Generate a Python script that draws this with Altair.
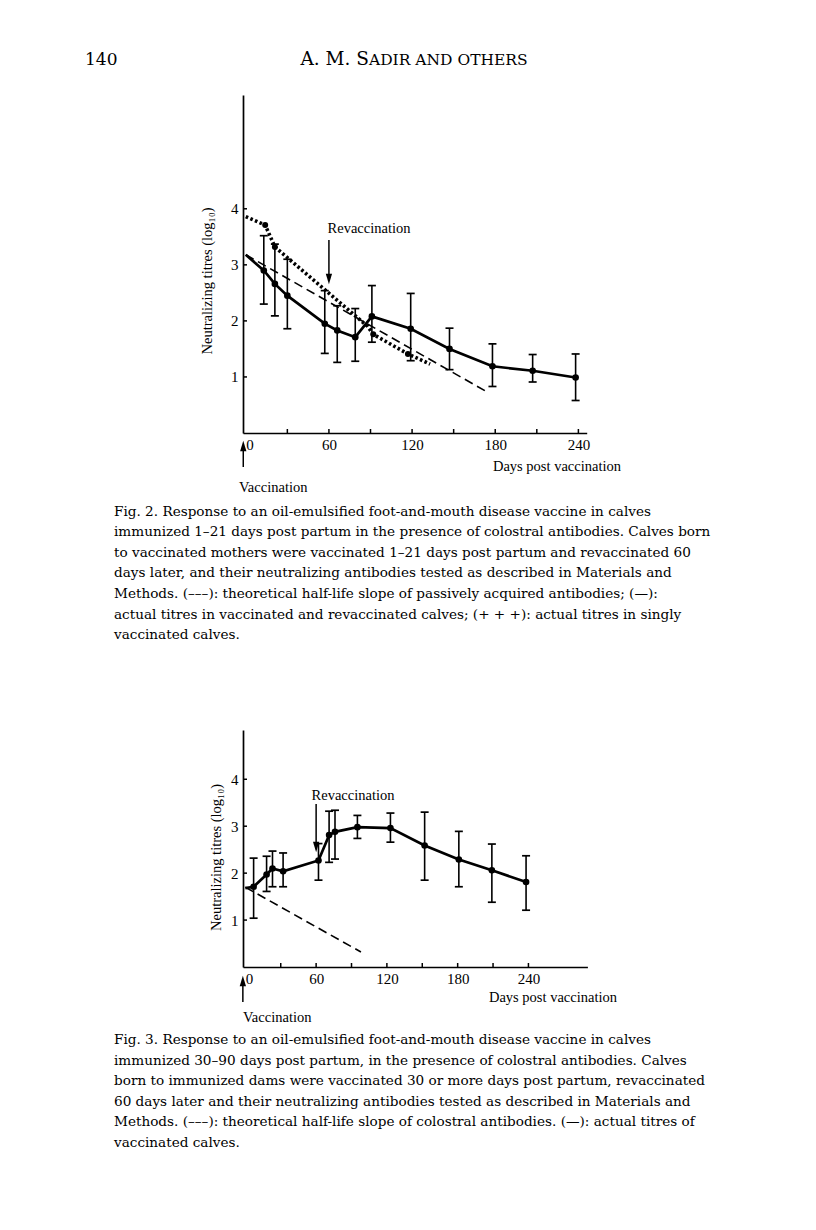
import altair as alt
import pandas as pd

SERIF = "Liberation Serif"
BOOK = "DejaVu Serif"

# ---------------- Fig. 2 data ----------------
f2_day = [0, 13, 21, 30, 57, 66, 79, 91, 119, 147, 178, 207, 238]
f2_titre = [3.18, 2.90, 2.66, 2.45, 1.95, 1.83, 1.71, 2.08, 1.86, 1.50, 1.19, 1.11, 0.99]
f2_hi = [None, 3.52, 3.37, 3.10, 2.54, 2.27, 2.22, 2.63, 2.49, 1.87, 1.59, 1.40, 1.41]
f2_lo = [None, 2.30, 2.09, 1.86, 1.42, 1.26, 1.28, 1.62, 1.29, 1.13, 0.83, 0.91, 0.58]

# singly vaccinated calves (+ + +)
sv_day = [0, 14, 21, 88, 92, 117, 133]
sv_titre = [3.86, 3.71, 3.32, 1.90, 1.76, 1.41, 1.23]
sv_dot = [False, True, True, False, True, True, False]

# theoretical half-life slope
hl2_day = [0, 175]
hl2_titre = [3.18, 0.72]

# ---------------- Fig. 3 data ----------------
f3_day = [0, 7, 18, 23, 32, 62, 71, 76, 95, 123, 152, 181, 209, 238]
f3_titre = [1.68, 1.71, 1.97, 2.10, 2.04, 2.27, 2.81, 2.88, 2.98, 2.96, 2.59, 2.29, 2.06, 1.81]
f3_hi = [None, 2.32, 2.36, 2.47, 2.43, 2.63, 3.32, 3.34, 3.23, 3.28, 3.30, 2.89, 2.62, 2.37]
f3_lo = [None, 1.04, 1.61, 1.71, 1.71, 1.85, 2.23, 2.30, 2.74, 2.66, 1.85, 1.71, 1.38, 1.21]

hl3_day = [0, 98]
hl3_titre = [1.70, 0.32]

# ---------------- axes ----------------
x_tick_values = [0, 30, 60, 90, 120, 150, 180, 210, 240]
x_inner_ticks = [30, 60, 90, 120, 150, 180, 210, 240]
y_tick_values = [1, 2, 3, 4]
revacc_day = [60]
vacc_day = [0]

y_title = "Neutralizing titres (log\u2081\u2080)"
x_title = "Days post vaccination"

cap2 = [
    "Fig. 2. Response to an oil-emulsified foot-and-mouth disease vaccine in calves",
    "immunized 1\u201321 days post partum in the presence of colostral antibodies. Calves born",
    "to vaccinated mothers were vaccinated 1\u201321 days post partum and revaccinated 60",
    "days later, and their neutralizing antibodies tested as described in Materials and",
    "Methods. (\u2013\u2013\u2013): theoretical half-life slope of passively acquired antibodies; (\u2014):",
    "actual titres in vaccinated and revaccinated calves; (+ + +): actual titres in singly",
    "vaccinated calves.",
]
cap3 = [
    "Fig. 3. Response to an oil-emulsified foot-and-mouth disease vaccine in calves",
    "immunized 30\u201390 days post partum, in the presence of colostral antibodies. Calves",
    "born to immunized dams were vaccinated 30 or more days post partum, revaccinated",
    "60 days later and their neutralizing antibodies tested as described in Materials and",
    "Methods. (\u2013\u2013\u2013): theoretical half-life slope of colostral antibodies. (\u2014): actual titres of",
    "vaccinated calves.",
]


def text_layer(txt, x, y, size, font=SERIF, align="left", baseline="middle",
               angle=None, line_height=None):
    props = dict(align=align, baseline=baseline, font=font, fontSize=size, color="black")
    if angle is not None:
        props["angle"] = angle
    if line_height is not None:
        props["lineHeight"] = line_height
        props["lineBreak"] = "\n"
    return alt.Chart(pd.DataFrame({"t": [txt]})).mark_text(**props).encode(
        text="t:N", x=alt.value(x), y=alt.value(y))


def figure(days, titres, his, los, hl_days, hl_titres, w, h, xdom, ydom,
           ann, extra=None):
    xs = alt.Scale(domain=xdom, nice=False, zero=False)
    ys = alt.Scale(domain=ydom, nice=False, zero=False)

    x_axis = alt.Axis(values=x_tick_values,
                      labelExpr="datum.value % 60 == 0 ? datum.label : ''",
                      labelAlign={"condition": {"test": "datum.value == 0", "value": "left"},
                                  "value": "center"},
                      tickSize=0, labelPadding=4, labelOverlap=False,
                      domainColor="black", domainWidth=1.7, grid=False, title=None,
                      labelFont=SERIF, labelFontSize=15, labelColor="black")
    y_axis = alt.Axis(values=y_tick_values, tickSize=0, labelPadding=5,
                      domainColor="black", domainWidth=1.7, grid=False, title=None,
                      labelFont=SERIF, labelFontSize=15, labelColor="black")

    def X(f):
        return alt.X(f, type="quantitative", scale=xs, axis=x_axis)

    def Y(f):
        return alt.Y(f, type="quantitative", scale=ys, axis=y_axis)

    df = pd.DataFrame({"day": days, "titre": titres, "hi": his, "lo": los})
    hl = pd.DataFrame({"day": hl_days, "titre": hl_titres})
    base = alt.Chart(df)
    valid = "isValid(datum.hi)"

    layers = [
        base.mark_line(color="black", strokeWidth=2.7).encode(
            x=X("day"), y=Y("titre")),
        alt.Chart(hl).mark_line(color="black", strokeWidth=1.6, strokeDash=[9, 5]).encode(
            x=X("day"), y=Y("titre")),
        base.transform_filter(valid).mark_rule(color="black", strokeWidth=1.6).encode(
            x=X("day"), y=Y("lo"), y2=alt.Y2("hi")),
        base.transform_filter(valid).mark_tick(orient="horizontal", size=8, thickness=1.7,
                                                color="black", opacity=1).encode(
            x=X("day"), y=Y("hi")),
        base.transform_filter(valid).mark_tick(orient="horizontal", size=8, thickness=1.7,
                                                color="black", opacity=1).encode(
            x=X("day"), y=Y("lo")),
        base.transform_filter(valid).mark_circle(color="black", size=44, opacity=1).encode(
            x=X("day"), y=Y("titre")),
        # inward tick marks
        alt.Chart(pd.DataFrame({"day": x_inner_ticks})).mark_rule(color="black", strokeWidth=1.5).encode(
            x=X("day"), y=alt.value(h - 4), y2=alt.value(h)),
        alt.Chart(pd.DataFrame({"v": y_tick_values})).mark_rule(color="black", strokeWidth=1.5).encode(
            y=Y("v"), x=alt.value(0), x2=alt.value(4)),
    ]
    if extra is not None:
        layers += extra(X, Y)

    # revaccination arrow
    rv = alt.Chart(pd.DataFrame({"day": revacc_day}))
    layers += [
        rv.mark_rule(color="black", strokeWidth=1.5).encode(
            x=X("day"), y=alt.value(ann["rv_top"]), y2=alt.value(ann["rv_tip"] - 6)),
        rv.mark_point(shape="M-0.6,-1L0.6,-1L0,1Z", filled=True, size=110, color="black",
                      opacity=1).encode(x=X("day"), y=alt.value(ann["rv_tip"] - 5)),
    ]
    # vaccination arrow (drawn at the axis line)
    vc = alt.Chart(pd.DataFrame({"day": vacc_day}))
    layers += [
        vc.mark_rule(color="black", strokeWidth=1.5, xOffset=-2.5).encode(
            x=X("day"), y=alt.value(ann["vc_tip"] + 6), y2=alt.value(ann["vc_bot"])),
        vc.mark_point(shape="M-0.6,1L0.6,1L0,-1Z", filled=True, size=110, color="black",
                      opacity=1, xOffset=-2.5).encode(x=X("day"), y=alt.value(ann["vc_tip"] + 5)),
    ]
    # texts
    layers += [
        text_layer("Revaccination", ann["rv_tx"], ann["rv_ty"], 14.5, align="center"),
        text_layer(y_title, ann["yt_x"], ann["yt_y"], 14.5, align="center", angle=270),
        text_layer(x_title, ann["xt_x"], ann["xt_y"], 14.5, align="right"),
        text_layer("Vaccination", ann["vt_x"], ann["vt_y"], 14.5, align="left"),
        text_layer("\n".join(ann["cap"]), ann["cap_x"], ann["cap_y"], 13.6, font=BOOK,
                   align="left", baseline="alphabetic", line_height=20.6),
    ]
    return alt.layer(*layers).properties(width=w, height=h)


def singly(X, Y):
    sv = pd.DataFrame({"day": sv_day, "titre": sv_titre, "dot": sv_dot})
    return [
        alt.Chart(sv).mark_line(color="black", strokeWidth=3.6, strokeDash=[2.6, 2.4]).encode(
            x=X("day"), y=Y("titre")),
        alt.Chart(sv).transform_filter("datum.dot").mark_circle(color="black", size=36, opacity=1).encode(
            x=X("day"), y=Y("titre")),
    ]


ann2 = dict(rv_top=145, rv_tip=189, vc_tip=346, vc_bot=372,
            rv_tx=126, rv_ty=134, yt_x=-35, yt_y=186,
            xt_x=378, xt_y=372, vt_x=-4, vt_y=393,
            cap=cap2, cap_x=-129, cap_y=420.5)
ann3 = dict(rv_top=74, rv_tip=122, vc_tip=246, vc_bot=272,
            rv_tx=110, rv_ty=66, yt_x=-26, yt_y=127.5,
            xt_x=374, xt_y=267.5, vt_x=0, vt_y=287.5,
            cap=cap3, cap_x=-129, cap_y=314)

fig2 = figure(f2_day, f2_titre, f2_hi, f2_lo, hl2_day, hl2_titre, 343.7, 338,
              [-2, 246], [0, 6.03], ann2, extra=singly)

# running head + invisible page anchor (top-left of page content)
head = [
    alt.Chart(pd.DataFrame({"a": [0]})).mark_rule(opacity=0, strokeWidth=0.1).encode(
        x=alt.value(-234.3), x2=alt.value(-233.3), y=alt.value(-87), y2=alt.value(-86)),
    text_layer("140", -158, -30, 17, font=BOOK, baseline="alphabetic"),
    text_layer("A. M. S", 126, -30, 18.5, font=BOOK, align="right", baseline="alphabetic"),
    text_layer("ADIR AND OTHERS", 126, -30, 15.5, font=BOOK, align="left", baseline="alphabetic"),
]
fig2 = alt.layer(fig2, *head)

fig3 = figure(f3_day, f3_titre, f3_hi, f3_lo, hl3_day, hl3_titre, 344.4, 237,
              [-2, 290], [0, 5.05], ann3)

chart = alt.vconcat(fig2, fig3, spacing=297, bounds="flush").properties(
    padding=0).configure_view(stroke=None)

chart.save("out.html", embed_options={"renderer": "svg", "actions": False})
